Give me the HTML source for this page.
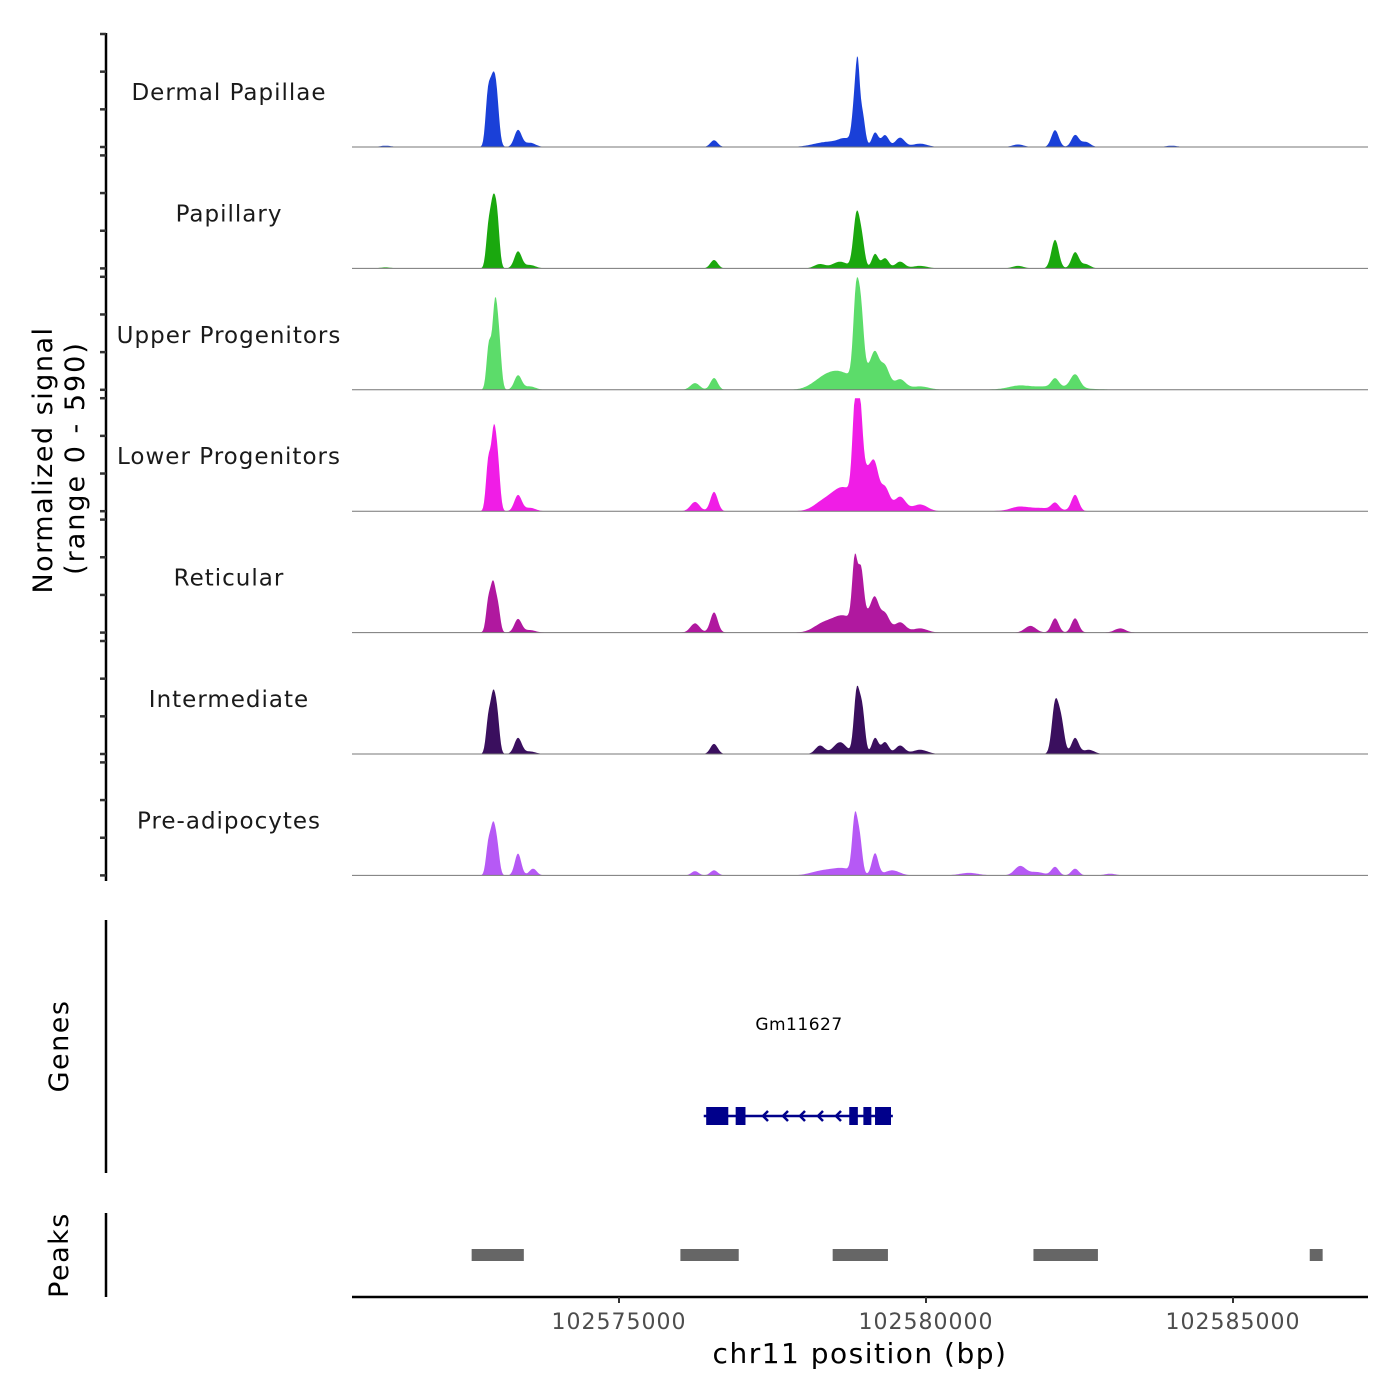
<!DOCTYPE html>
<html><head><meta charset="utf-8"><style>
html,body{margin:0;padding:0;background:#fff;}
svg{display:block;font-family:"DejaVu Sans","Liberation Sans",sans-serif;}
</style></head><body>
<svg id="chart" width="1400" height="1400" viewBox="0 0 1400 1400">
<g id="tracks"></g>
<g id="yaxis"></g>
<text transform="translate(52,460) rotate(-90)" text-anchor="middle" font-size="27" letter-spacing="1.5" fill="#000">Normalized signal</text>
<text transform="translate(84,458) rotate(-90)" text-anchor="middle" font-size="27" letter-spacing="2" fill="#000">(range 0 - 590)</text>
<line x1="106" y1="920" x2="106" y2="1173" stroke="#000" stroke-width="2.5"/>
<text transform="translate(68,1046) rotate(-90)" text-anchor="middle" font-size="27" letter-spacing="1.5">Genes</text>
<text x="799" y="1030" text-anchor="middle" font-size="17" letter-spacing="0.5">Gm11627</text>
<g id="gene"></g>
<line x1="106" y1="1213" x2="106" y2="1297" stroke="#000" stroke-width="2.5"/>
<text transform="translate(68,1255) rotate(-90)" text-anchor="middle" font-size="27" letter-spacing="1.5">Peaks</text>
<g id="peaks"></g>
<line x1="352" y1="1297" x2="1368" y2="1297" stroke="#000" stroke-width="2.5"/>
<g id="xaxis"></g>
<text x="860" y="1363" text-anchor="middle" font-size="28" letter-spacing="1.5">chr11 position (bp)</text>
</svg>
<script>
const NS="http://www.w3.org/2000/svg";
const xTicks=[102575000,102580000,102585000];
const trackNames=["Dermal Papillae","Papillary","Upper Progenitors","Lower Progenitors","Reticular","Intermediate","Pre-adipocytes"];
const trackColors=["#1a40d8","#1aa80e","#5cdc6a","#f01de6","#b0189f","#3a0f5e","#b659f5"];
const yMax=590;
// peaks: [position bp, height, width bp]
const dpPeaks=[[102572860,250,25],[102572930,300,30],[102573000,300,30],[102573355,100,40],[102573550,25,60],[102576548,40,40],[102578400,30,150],[102578700,40,80],[102578850,300,30],[102578890,260,20],[102578960,200,30],[102579170,85,35],[102579333,70,40],[102579577,55,50],[102579900,20,80],[102582102,100,40],[102582428,70,40],[102582600,30,50],[102581500,15,60],[102571200,8,60],[102584000,8,60]];
const papPeaks=[[102572870,200,25],[102572950,380,30],[102573020,230,25],[102573355,100,40],[102573550,20,60],[102576548,50,40],[102578270,25,60],[102578600,40,80],[102578870,320,35],[102578960,140,30],[102579170,85,35],[102579333,60,40],[102579577,40,50],[102579900,15,80],[102582102,170,40],[102582428,95,40],[102582600,25,50],[102581500,15,60],[102571200,6,60]];
const upPeaks=[[102572880,260,25],[102572980,500,28],[102573050,230,25],[102573355,85,40],[102573550,20,60],[102576238,40,50],[102576548,70,40],[102578300,40,120],[102578600,100,150],[102578860,480,30],[102578940,360,30],[102579100,120,100],[102579170,110,40],[102579333,110,50],[102579577,60,60],[102579900,20,100],[102582102,50,40],[102582428,80,50],[102582000,20,300],[102581500,15,100]];
const lpPeaks=[[102572870,280,25],[102572960,460,28],[102573030,230,25],[102573355,95,40],[102573550,20,60],[102576238,55,50],[102576548,115,40],[102578300,40,100],[102578650,140,130],[102578840,460,28],[102578920,460,30],[102579050,230,80],[102579170,140,40],[102579333,130,50],[102579577,85,60],[102579903,40,80],[102582102,40,40],[102582428,95,40],[102581800,20,200],[102581500,15,80]];
const retPeaks=[[102572870,170,25],[102572950,280,28],[102573030,140,25],[102573355,80,40],[102573550,15,60],[102576238,55,50],[102576548,120,40],[102578300,40,100],[102578650,100,130],[102578840,370,28],[102578940,300,30],[102579100,110,80],[102579170,110,40],[102579333,100,50],[102579577,60,60],[102579903,25,80],[102581700,40,60],[102582102,85,40],[102582428,85,40],[102583161,25,60]];
const intPeaks=[[102572870,190,25],[102572950,330,28],[102573020,190,25],[102573355,95,40],[102573550,15,60],[102576548,60,40],[102578274,50,50],[102578600,70,70],[102578870,360,30],[102578960,260,30],[102579170,95,35],[102579333,70,40],[102579577,50,50],[102579903,25,80],[102582102,290,35],[102582200,190,35],[102582428,95,40],[102582650,25,60]];
const preaPeaks=[[102572870,170,25],[102572950,280,28],[102573020,140,25],[102573355,130,35],[102573600,40,40],[102576238,25,40],[102576548,30,40],[102578300,25,120],[102578650,40,120],[102578840,320,28],[102578920,200,28],[102579170,130,35],[102579450,30,80],[102581532,55,60],[102581800,20,80],[102582102,50,40],[102582428,40,40],[102580700,15,100],[102583000,10,60]];
const allPeaks=[dpPeaks,papPeaks,upPeaks,lpPeaks,retPeaks,intPeaks,preaPeaks];
const peakRegions=[[102572600,102573450],[102576000,102576950],[102578480,102579380],[102581750,102582800],[102586250,102586460]];
const geneExons=[[102576420,102576780],[102576900,102577060],[102578750,102578890],[102578980,102579110],[102579170,102579430]];
const geneStart=102576380, geneEnd=102579460;
const widthScale=1.5, heightScale=0.88;

const x0=352,x1=1368;
function xs(bp){return 619+(bp-102575000)*(307/5000);}
const bpMin=102575000+(x0-619)*5000/307, bpMax=102575000+(x1-619)*5000/307;
const panelH=113, step=121.4, firstBase=147;
function mk(tag,attrs,parent){const e=document.createElementNS(NS,tag);for(const k in attrs)e.setAttribute(k,attrs[k]);parent.appendChild(e);return e;}
const tracks=document.getElementById('tracks'), yaxis=document.getElementById('yaxis');
mk('line',{x1:106,y1:33,x2:106,y2:881,stroke:'#000','stroke-width':2.5},yaxis);
allPeaks.forEach((pk,i)=>{
  const base=firstBase+i*step;
  const g=mk('g',{},tracks);
  
  
  let d='M'+x0+','+base;
  for(let x=x0;x<=x1;x+=1){
    const bp=bpMin+(x-x0)*(bpMax-bpMin)/(x1-x0);
    let v=0;for(const p of pk){const z=(bp-p[0])/(p[2]*widthScale);v+=p[1]*heightScale*Math.exp(-0.5*z*z);}
    v=Math.min(v,yMax);
    d+='L'+x+','+(base-v/yMax*panelH).toFixed(1);
  }
  d+='L'+x1+','+base+'Z';
  const a=mk('path',{d:d,fill:trackColors[i]},g);
  
  
  const l=mk('line',{x1:x0,y1:base,x2:x1,y2:base,stroke:'#777','stroke-width':1},g);
  
  
  const t=mk('text',{x:229,y:base-47,'text-anchor':'middle','font-size':23,'letter-spacing':1,fill:'#1a1a1a'},g);
  t.textContent=trackNames[i];
  
  
  for(let k=0;k<4;k++){const y=base-panelH+k*panelH/3;
    const tk=mk('line',{x1:100,y1:y,x2:106,y2:y,stroke:'#333','stroke-width':2.5},yaxis);
    
    }
});
const gene=document.getElementById('gene');
const gl=mk('line',{x1:xs(geneStart),y1:1116,x2:xs(geneEnd),y2:1116,stroke:'#00008b','stroke-width':2.5},gene);


geneExons.forEach(e=>{const r=mk('rect',{x:xs(e[0]),y:1107,width:xs(e[1])-xs(e[0]),height:18,fill:'#00008b'},gene);
  
  });
[763,783,800,818,836].forEach(x=>{const p=mk('path',{d:`M${x+5},1111L${x},1116L${x+5},1121`,fill:'none',stroke:'#00008b','stroke-width':2.5},gene);
  
  });
const peaks=document.getElementById('peaks');
peakRegions.forEach(r=>{const e=mk('rect',{x:xs(r[0]),y:1249,width:xs(r[1])-xs(r[0]),height:12,fill:'#666'},peaks);
  
  });
const xa=document.getElementById('xaxis');
xTicks.forEach(v=>{const x=xs(v);
  const l=mk('line',{x1:x,y1:1297,x2:x,y2:1303,stroke:'#333','stroke-width':2},xa);
  
  
  const t=mk('text',{x:x,y:1329,'text-anchor':'middle','font-size':22,'letter-spacing':1,fill:'#4d4d4d'},xa);
  t.textContent=v;
  
  });
</script>
</body></html>
